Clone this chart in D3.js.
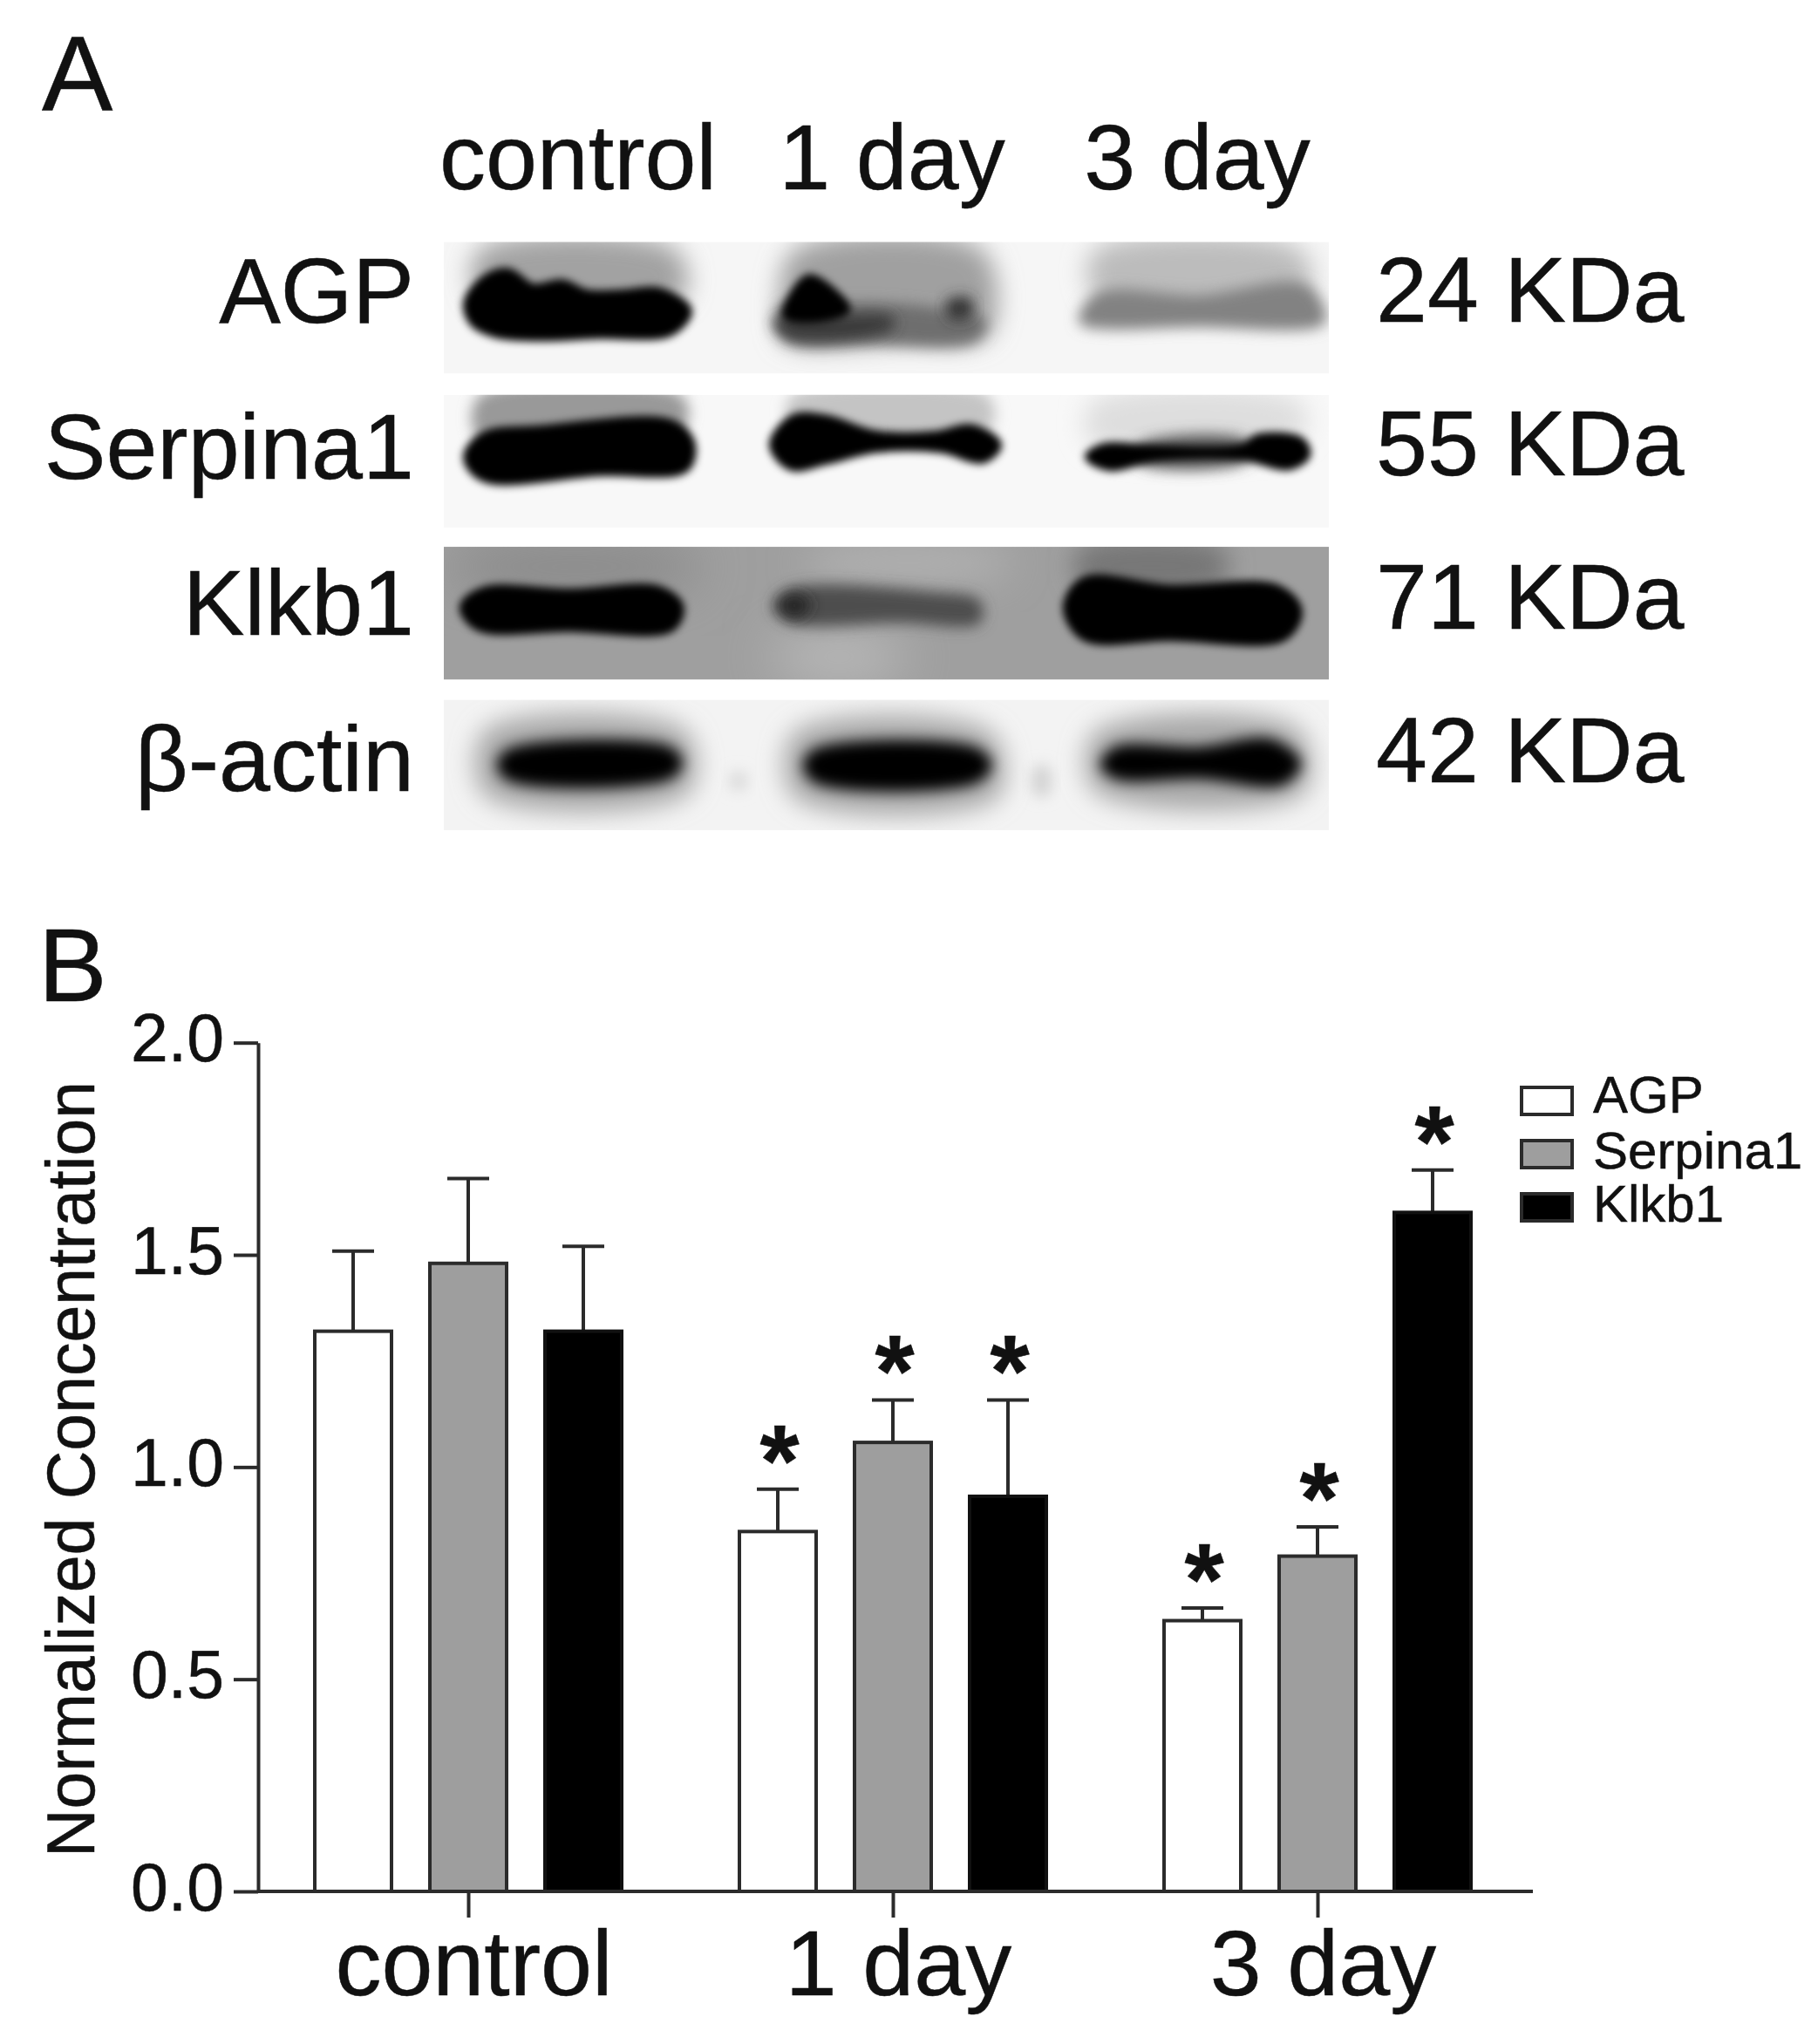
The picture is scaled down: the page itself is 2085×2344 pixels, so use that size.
<!DOCTYPE html>
<html><head><meta charset="utf-8">
<style>html,body{margin:0;padding:0;background:#fff}svg{display:block}text{font-family:"Liberation Sans",Arial,sans-serif;fill:#111;stroke:#111;stroke-width:.5px}</style>
<script src="https://cdn.jsdelivr.net/npm/d3@7"></script></head>
<body><svg id="c" width="2085" height="2344"></svg>
<script>
const categories=["control","1 day","3 day"];
const seriesNames=["AGP","Serpina1","Klkb1"];
const seriesFill=["#ffffff","#9e9e9e","#000000"];
const agp=[1.32,0.848,0.638];
const serpina1=[1.48,1.058,0.79];
const klkb1=[1.32,0.931,1.60];
const agpUpper=[1.509,0.948,0.668];
const serpina1Upper=[1.68,1.158,0.859];
const klkb1Upper=[1.52,1.158,1.70];
const yTicks=[0,0.5,1,1.5,2];
const blotLabels=["AGP","Serpina1","Klkb1","β-actin"];
const blotSizes=["24 KDa","55 KDa","71 KDa","42 KDa"];

const svg=d3.select("#c");
const defs=svg.append("defs");
[["b3",3],["b5",5],["b8",8],["b14",14],["b22",22],["b30",30]].forEach(([id,s])=>{
  defs.append("filter").attr("id",id).attr("x","-40%").attr("y","-80%").attr("width","180%").attr("height","260%")
    .append("feGaussianBlur").attr("stdDeviation",s);
});

/* ---------- Panel A: blot strips, outlined in a crop's own units ---------- */
const bx=d3.scaleLinear().domain([42,1516]).range([509,1524]);
const by=d3.scaleLinear().domain([38,1508]).range([277.4,952]);
const blob=d3.line().x(d=>bx(d[0])).y(d=>by(d[1])).curve(d3.curveCatmullRomClosed.alpha(.5));
const blots=[
 {y:[38,367],bg:"#f6f6f6",items:[
  {f:"b14",c:"#a2a2a2",p:[[100,60],[430,60],[440,180],[100,180]]},
  {f:"b5",c:"#000",g:8,p:[[80,190],[110,130],[150,112],[190,150],[240,140],[280,165],[340,165],[400,160],[450,210],[420,265],[300,272],[200,278],[130,270],[90,240]]},
  {f:"b14",c:"#a0a0a0",p:[[625,60],[940,60],[950,270],[800,290],[610,285],[600,200]]},
  {f:"b8",c:"#6e6e6e",p:[[600,200],[700,190],[850,200],[945,235],[930,285],[750,292],[610,280]]},
  {f:"b8",c:"#3a3a3a",p:[[590,235],[660,225],[790,225],[790,255],[700,285],[610,275]]},
  {f:"b5",c:"#000",g:6,p:[[650,125],[715,208],[650,235],[610,222]]},
  {f:"b8",c:"#333",p:[[880,185],[920,180],[920,225],[885,230]]},
  {f:"b14",c:"#bcbcbc",p:[[1125,60],[1470,60],[1480,170],[1125,170]]},
  {f:"b8",c:"#828282",p:[[1100,240],[1130,165],[1300,170],[1480,145],[1510,240],[1300,250]]}
 ]},
 {y:[420,752],bg:"#f8f8f8",items:[
  {f:"b8",c:"#999",p:[[100,425],[440,425],[440,510],[100,530]]},
  {f:"b5",c:"#000",g:8,p:[[80,570],[110,520],[200,505],[420,490],[455,540],[445,605],[300,615],[120,635],[90,610]]},
  {f:"b8",c:"#c4c4c4",p:[[620,425],[950,425],[950,510],[620,500]]},
  {f:"b5",c:"#000",g:9,p:[[590,545],[625,478],[680,480],[760,518],[860,520],[920,503],[965,545],[940,582],[870,556],[760,556],[680,585],[620,600]]},
  {f:"b14",c:"#dedede",p:[[1120,440],[1470,440],[1470,530],[1120,540]]},
  {f:"b8",c:"#555",p:[[1200,545],[1380,535],[1380,585],[1200,590]]},
  {f:"b5",c:"#000",g:8,p:[[1115,575],[1140,550],[1230,555],[1370,552],[1400,525],[1470,535],[1480,570],[1450,600],[1370,575],[1230,577],[1150,602]]}
 ]},
 {y:[800,1132],bg:"#9f9f9f",items:[
  {f:"b30",c:"#888",p:[[60,820],[460,820],[460,880],[60,880]]},
  {f:"b30",c:"#bcbcbc",p:[[600,1040],[800,1040],[800,1110],[600,1110]]},
  {f:"b22",c:"#b2b2b2",p:[[650,820],[980,820],[980,860],[650,860]]},
  {f:"b14",c:"#777",p:[[1100,805],[1340,805],[1340,890],[1100,890]]},
  {f:"b5",c:"#000",g:10,p:[[75,950],[110,910],[250,915],[400,908],[435,950],[420,1002],[250,1002],[100,1000]]},
  {f:"b8",c:"#4e4e4e",p:[[590,950],[620,905],[850,912],[935,935],[935,990],[800,990],[620,990]]},
  {f:"b8",c:"#262626",p:[[598,945],[625,915],[655,945],[625,980]]},
  {f:"b5",c:"#000",g:10,p:[[1080,950],[1110,885],[1250,905],[1430,905],[1465,960],[1440,1025],[1250,1025],[1110,1025]]}
 ]},
 {y:[1182,1508],bg:"#f3f3f3",items:[
  {f:"b14",c:"#a8a8a8",p:[[110,1260],[445,1260],[450,1415],[110,1420]]},
  {f:"b8",c:"#000",p:[[130,1345],[150,1305],[420,1300],[440,1340],[420,1380],[150,1385]]},
  {f:"b14",c:"#a8a8a8",p:[[625,1265],[955,1265],[965,1425],[625,1425]]},
  {f:"b8",c:"#000",p:[[640,1345],[660,1305],[930,1302],[955,1345],[930,1390],[660,1390]]},
  {f:"b14",c:"#a8a8a8",p:[[1125,1265],[1465,1255],[1475,1415],[1125,1410]]},
  {f:"b8",c:"#000",p:[[1135,1345],[1160,1300],[1300,1300],[1420,1280],[1470,1340],[1440,1395],[1300,1380],[1160,1380]]},
  {f:"b8",c:"#dcdcdc",p:[[520,1365],[545,1365],[545,1405],[520,1405]]},
  {f:"b8",c:"#d4d4d4",p:[[1025,1350],[1050,1350],[1050,1420],[1025,1420]]}
 ]}
];
blots.forEach((b,i)=>{
  const x0=bx(42),w=bx(1516)-bx(42),y0=by(b.y[0]),h=by(b.y[1])-by(b.y[0]);
  defs.append("clipPath").attr("id","clip"+i).append("rect").attr("x",x0).attr("y",y0).attr("width",w).attr("height",h);
  const g=svg.append("g").attr("clip-path",`url(#clip${i})`);
  g.append("rect").attr("x",x0).attr("y",y0).attr("width",w).attr("height",h).attr("fill",b.bg);
  g.selectAll("path").data(b.items).join("path").attr("d",d=>blob(d.p)).attr("fill",d=>d.c)
    .attr("stroke",d=>d.g?d.c:"none").attr("stroke-width",d=>d.g||0).attr("stroke-linejoin","round")
    .attr("filter",d=>`url(#${d.f})`);
});
const big=106;
svg.selectAll(".col").data(categories).join("text").attr("class","col").attr("x",(d,i)=>[663,1023,1373][i]).attr("y",217)
   .attr("text-anchor","middle").attr("font-size",big).text(d=>d);
const rowBase=d3.scalePoint().domain(blotLabels).range([370,907]);
svg.selectAll(".rowl").data(blotLabels).join("text").attr("class","rowl").attr("x",475).attr("y",d=>rowBase(d))
   .attr("text-anchor","end").attr("font-size",big).text(d=>d);
const sizeBase=d3.scalePoint().domain(blotSizes).range([369,897]);
svg.selectAll(".rowr").data(blotSizes).join("text").attr("class","rowr").attr("x",1578).attr("y",d=>sizeBase(d))
   .attr("font-size",big).text(d=>d);
svg.append("text").attr("x",48).attr("y",127).attr("font-size",122).text("A");
svg.append("text").attr("x",44).attr("y",1148).attr("font-size",118).text("B");

/* ---------- Panel B: bar chart ---------- */
const y=d3.scaleLinear().domain([0,2]).range([2169,1195.7]);
const x0=d3.scalePoint().domain(categories).range([537,1511]);
const x1=d3.scalePoint().domain(seriesNames).range([-132,132]);
const barW=88, ink="#2b2b2b", sw=4;
const values=[agp,serpina1,klkb1], uppers=[agpUpper,serpina1Upper,klkb1Upper];
const rows=[];
seriesNames.forEach((s,si)=>categories.forEach((c,ci)=>rows.push({s,si,c,ci,v:values[si][ci],u:uppers[si][ci]})));

const axX=svg.append("g").attr("transform",`translate(0,${y(0)})`).call(
  d3.axisBottom(x0).tickSize(30).tickSizeOuter(0));
axX.select(".domain").remove();
axX.selectAll("line").attr("stroke",ink).attr("stroke-width",sw);
axX.selectAll("text").attr("font-size",106).attr("dx",6).attr("dy",0).attr("y",119).style("font-family",'"Liberation Sans"');

const eb=svg.append("g");
eb.selectAll("line.stem").data(rows).join("line").attr("class","stem")
  .attr("x1",d=>x0(d.c)+x1(d.s)).attr("x2",d=>x0(d.c)+x1(d.s)).attr("y1",d=>y(d.v)).attr("y2",d=>y(d.u))
  .attr("stroke",ink).attr("stroke-width",sw);
eb.selectAll("line.cap").data(rows).join("line").attr("class","cap")
  .attr("x1",d=>x0(d.c)+x1(d.s)-24).attr("x2",d=>x0(d.c)+x1(d.s)+24).attr("y1",d=>y(d.u)).attr("y2",d=>y(d.u))
  .attr("stroke",ink).attr("stroke-width",sw);

svg.append("g").selectAll("rect").data(rows).join("rect")
  .attr("x",d=>x0(d.c)+x1(d.s)-barW/2).attr("width",barW)
  .attr("y",d=>y(d.v)).attr("height",d=>y(0)-y(d.v))
  .attr("fill",d=>seriesFill[d.si]).attr("stroke",d=>d.si===2?"#111":ink).attr("stroke-width",sw);

const axY=svg.append("g").attr("transform","translate(296,0)").call(
  d3.axisLeft(y).tickValues(yTicks).tickFormat(d3.format(".1f")).tickSize(28).tickSizeOuter(0));
axY.select(".domain").attr("stroke",ink).attr("stroke-width",sw);
axY.selectAll("line").attr("stroke",ink).attr("stroke-width",sw);
axY.selectAll("text").attr("font-size",77).attr("x",-39).attr("dy",21).style("font-family",'"Liberation Sans"');
svg.append("line").attr("x1",296).attr("x2",1758).attr("y1",y(0)).attr("y2",y(0)).attr("stroke",ink).attr("stroke-width",sw);

svg.append("text").attr("transform","translate(108,1685) rotate(-90)").attr("text-anchor","middle")
   .attr("font-size",77).text("Normalized Concentration");

// significance marks (all groups but control)
svg.append("g").selectAll("text").data(rows.filter(d=>d.ci>0)).join("text")
  .attr("x",d=>x0(d.c)+x1(d.s)+2).attr("y",d=>y(d.u)+8)
  .attr("text-anchor","middle").attr("font-size",116).attr("font-weight","bold").text("*");

// legend
const ly=d3.scalePoint().domain(seriesNames).range([1279,1401]);
const lg=svg.append("g");
lg.selectAll("rect").data(seriesNames).join("rect").attr("x",1745).attr("width",58)
  .attr("y",d=>ly(d)-32).attr("height",31)
  .attr("fill",(d,i)=>seriesFill[i]).attr("stroke",ink).attr("stroke-width",sw);
lg.selectAll("text").data(seriesNames).join("text").attr("x",1827).attr("y",(d,i)=>ly(d)-(i===0?3:0)).attr("font-size",60).text(d=>d);
</script></body></html>
